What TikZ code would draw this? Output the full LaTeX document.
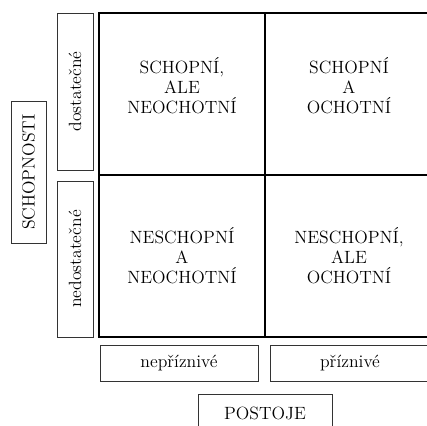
\documentclass[tikz,border=0pt]{standalone}
\usepackage{fontspec}
\newlength{\du}
\setlength{\du}{0.75pt}

\begin{document}
\begin{tikzpicture}[
  cellbox/.style={draw=black,line width=1.1pt,minimum width=166\du,minimum height=162\du,inner sep=0pt},
  labelbox/.style={draw=black!80,line width=0.7pt,inner sep=0pt,font=\fontsize{13.3}{15}\selectfont},
  celltext/.style={align=center,inner sep=0pt,font=\fontsize{13.3}{15}\selectfont}]
\useasboundingbox (0\du,0\du) rectangle (427\du,-425\du);
% grid of four cells
\node[cellbox] (tl) at (182.000000\du,-94.000000\du){};
\node[cellbox] (tr) at (348.000000\du,-94.000000\du){};
\node[cellbox] (bl) at (182.000000\du,-256.000000\du){};
\node[cellbox] (br) at (348.000000\du,-256.000000\du){};
% setfont left to latex
\node[celltext] (tltext) at (182.000000\du,-86.000000\du){SCHOPNÍ,\\ALE\\NEOCHOTNÍ};
\node[celltext] (trtext) at (349.000000\du,-86.000000\du){SCHOPNÍ\\A\\OCHOTNÍ};
\node[celltext] (bltext) at (182.000000\du,-256.000000\du){NESCHOPNÍ\\A\\NEOCHOTNÍ};
\node[celltext] (brtext) at (349.000000\du,-256.000000\du){NESCHOPNÍ,\\ALE\\OCHOTNÍ};
% labels on the left
\node[labelbox,rotate=90,minimum width=157\du,minimum height=36\du] (dost) at (75.000000\du,-91.500000\du){dostatečné};
\node[labelbox,rotate=90,minimum width=156\du,minimum height=36\du] (nedost) at (75.000000\du,-259.000000\du){nedostatečné};
\node[labelbox,rotate=90,minimum width=142\du,minimum height=35\du] (schopnosti) at (28.500000\du,-172.000000\du){SCHOPNOSTI};
% labels below
\node[labelbox,minimum width=158\du,minimum height=36\du] (nepriznive) at (179.000000\du,-363.000000\du){nepříznivé};
\node[labelbox,minimum width=160\du,minimum height=36\du] (priznive) at (350.000000\du,-363.000000\du){příznivé};
\node[labelbox,minimum width=134\du,minimum height=39\du] (postoje) at (265.000000\du,-413.500000\du){POSTOJE};
\end{tikzpicture}
\end{document}
